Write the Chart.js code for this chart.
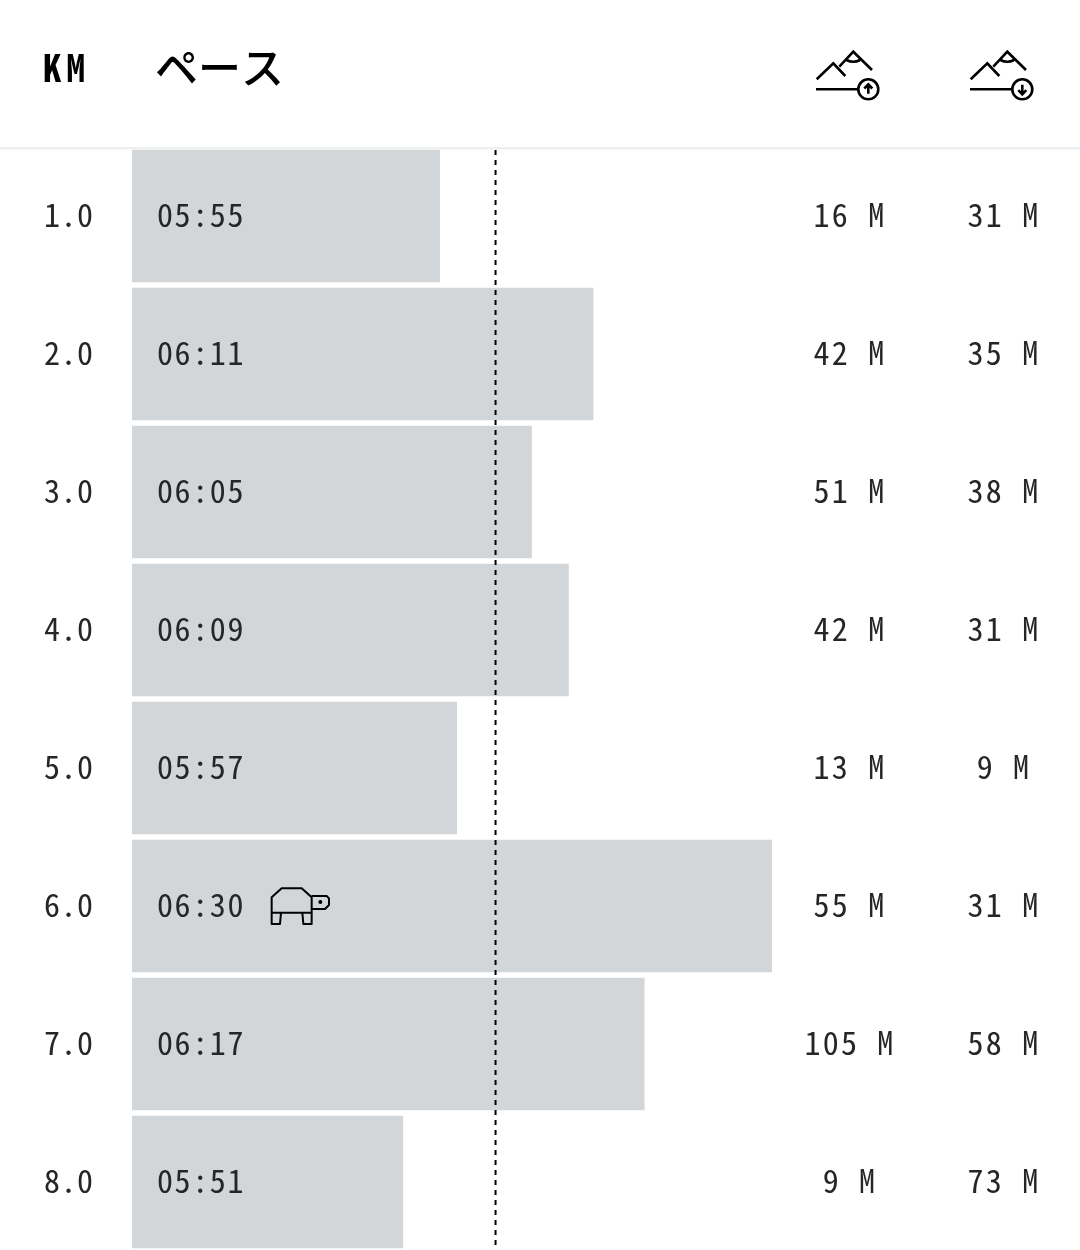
<!DOCTYPE html>
<html lang="ja">
<head>
<meta charset="utf-8">
<title>ペース</title>
<style>
    html, body { margin: 0; padding: 0; background: #fff; overflow: hidden; height: 1250px; }
    canvas { display: block; }
</style>
</head>
<body>
<canvas id="chartPace" width="1080" height="1251"></canvas>
<script src="https://cdn.jsdelivr.net/npm/chart.js@4"></script>
<script>
const kmLabels = ['1.0', '2.0', '3.0', '4.0', '5.0', '6.0', '7.0', '8.0'];
const paceLabels = ['05:55', '06:11', '06:05', '06:09', '05:57', '06:30', '06:17', '05:51'];
const paceSeconds = [354.9, 371.1, 364.6, 368.5, 356.7, 390, 376.5, 351];
const ascentLabels = ['16 M', '42 M', '51 M', '42 M', '13 M', '55 M', '105 M', '9 M'];
const descentLabels = ['31 M', '35 M', '38 M', '31 M', '9 M', '31 M', '58 M', '73 M'];
const averagePace = 360.8;

const INK = '#262626';
const BODY_FONT = '32px "Noto Sans Mono CJK JP", "Liberation Mono", monospace';

function spacedText(ctx, text, x, y, align, spacing) {
    ctx.font = BODY_FONT;
    ctx.fillStyle = INK;
    ctx.textBaseline = 'middle';
    ctx.letterSpacing = spacing + 'px';
    ctx.textAlign = align;
    ctx.fillText(text, x, y);
    ctx.letterSpacing = '0px';
}

// Montanha com seta (sobe = -1, desce = 1)
function mountainIcon(ctx, ox, dir) {
    ctx.save();
    ctx.translate(ox, 0);
    ctx.strokeStyle = '#000';
    ctx.lineWidth = 2.6;
    ctx.beginPath();
    ctx.moveTo(0.7, 79.3); ctx.lineTo(17.3, 63.3); ctx.lineTo(29.3, 76);
    ctx.moveTo(23.3, 66.7); ctx.lineTo(37.3, 51.7); ctx.lineTo(56, 70);
    ctx.moveTo(30.5, 60); ctx.quadraticCurveTo(37.3, 63.5, 44, 60);
    ctx.moveTo(0, 89.3); ctx.lineTo(42.3, 89.3);
    ctx.stroke();
    ctx.beginPath();
    ctx.arc(52.3, 89.3, 10, 0, Math.PI * 2);
    ctx.stroke();
    ctx.beginPath();
    ctx.moveTo(52.3, 89.3 - dir * 4.5); ctx.lineTo(52.3, 89.3 + dir * 4.5);
    ctx.moveTo(48.3, 89.3 + dir * 0.8); ctx.lineTo(52.3, 89.3 + dir * 5); ctx.lineTo(56.3, 89.3 + dir * 0.8);
    ctx.stroke();
    ctx.restore();
}

function turtleIcon(ctx) {
    ctx.save();
    ctx.translate(130, 860);
    ctx.scale(1 / 3, 1 / 3);
    ctx.strokeStyle = '#000';
    ctx.lineWidth = 6;
    ctx.lineJoin = 'round';
    ctx.beginPath();
    ctx.moveTo(425, 158); ctx.lineTo(425, 112); ctx.lineTo(455, 85); ctx.lineTo(515, 85);
    ctx.lineTo(545, 112); ctx.lineTo(545, 158); ctx.closePath();
    ctx.moveTo(425, 158); ctx.lineTo(425, 192); ctx.lineTo(450, 192); ctx.lineTo(453, 158);
    ctx.moveTo(517, 158); ctx.lineTo(520, 192); ctx.lineTo(545, 192); ctx.lineTo(545, 158);
    ctx.moveTo(545, 108); ctx.lineTo(590, 108); ctx.lineTo(597, 115); ctx.lineTo(597, 135);
    ctx.lineTo(585, 147); ctx.lineTo(545, 147);
    ctx.stroke();
    ctx.beginPath();
    ctx.fillStyle = '#000';
    ctx.arc(571, 126, 6, 0, Math.PI * 2);
    ctx.fill();
    ctx.restore();
}

const tablePlugin = {
    id: 'tablePlugin',
    afterDatasetsDraw(chart) {
        const { ctx, scales } = chart;
        ctx.save();

        // Linha de cabeçalho
        ctx.fillStyle = '#eeeff0';
        ctx.fillRect(0, 147, 1080, 2.5);

        // Média tracejada
        const avgX = scales.x.getPixelForValue(averagePace);
        ctx.strokeStyle = '#000';
        ctx.lineWidth = 2;
        ctx.setLineDash([5, 5]);
        ctx.beginPath();
        ctx.moveTo(avgX, 150);
        ctx.lineTo(avgX, 1248);
        ctx.stroke();
        ctx.setLineDash([]);

        // Cabeçalho
        ctx.fillStyle = '#000';
        ctx.textBaseline = 'middle';
        ctx.textAlign = 'left';
        ctx.font = 'bold 37px "Noto Sans Mono CJK JP", "Liberation Mono", monospace';
        ctx.letterSpacing = '5px';
        ctx.fillText('KM', 43, 68);
        ctx.letterSpacing = '0px';
        ctx.font = '500 43px "Noto Sans CJK JP", sans-serif';
        ctx.fillText('ペース', 155, 68);
        mountainIcon(ctx, 816, -1);
        mountainIcon(ctx, 970, 1);

        // Linhas da tabela
        kmLabels.forEach((km, i) => {
            const y = scales.y.getPixelForValue(i) - 1.5;
            spacedText(ctx, km, 44, y, 'left', 0.5);
            spacedText(ctx, paceLabels[i], 157, y, 'left', 1.6);
            spacedText(ctx, ascentLabels[i], 850, y, 'center', 2.2);
            spacedText(ctx, descentLabels[i], 1004, y, 'center', 2.2);
        });
        turtleIcon(ctx);
        ctx.restore();
    }
};

new Chart(document.getElementById('chartPace').getContext('2d'), {
    type: 'bar',
    data: {
        labels: kmLabels,
        datasets: [{
            label: 'ペース',
            data: paceSeconds,
            backgroundColor: '#d2d6d9',
            borderWidth: 0,
            barThickness: 132
        }]
    },
    options: {
        indexAxis: 'y',
        responsive: false,
        animation: false,
        devicePixelRatio: 1,
        layout: { padding: { left: 132, right: 308, top: 147, bottom: 0 } },
        plugins: { legend: { display: false }, tooltip: { enabled: false } },
        scales: {
            x: { display: false, min: 322.4, max: 390 },
            y: { display: false, grid: { offset: true } }
        }
    },
    plugins: [tablePlugin]
});
</script>
</body>
</html>
